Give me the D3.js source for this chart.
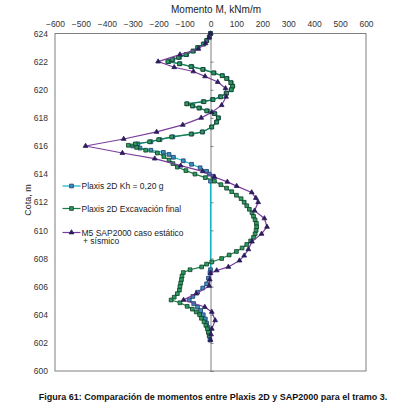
<!DOCTYPE html>
<html><head><meta charset="utf-8">
<script src="https://cdn.jsdelivr.net/npm/d3@7"></script>
<style>
body{margin:0;background:#fff;}
svg{display:block;font-family:"Liberation Sans",Arial,sans-serif;}
</style></head>
<body>
<svg id="c" width="393" height="405"></svg>
<script>
// ---- data ----
const xTicks = [-600,-500,-400,-300,-200,-100,0,100,200,300,400,500,600];
const yTicks = [600,602,604,606,608,610,612,614,616,618,620,622,624];
const seriesNames = ["Plaxis 2D Kh = 0,20 g","Plaxis 2D Excavación final","M5 SAP2000 caso estático","+ sísmico"];

// Plaxis 2D Excavación final (cota, momento)
const exCota = [624.0,623.75,623.5,623.25,623.0,622.75,622.5,622.3,622.15,622.0,621.85,621.65,621.45,621.2,621.0,620.8,620.5,620.25,620.0,619.75,619.5,619.3,619.15,619.0,618.85,618.7,618.5,618.3,618.0,617.7,617.35,617.0,616.85,616.65,616.45,616.3,616.15,616.05,615.9,615.7,615.5,615.25,615.0,614.75,614.5,614.25,614.0,613.75,613.5,613.25,613.0,612.75,612.5,612.25,612.0,611.75,611.5,611.25,611.0,610.75,610.5,610.25,610.0,609.75,609.5,609.25,609.0,608.75,608.5,608.25,608.0,607.75,607.6,607.4,607.2,607.0,606.75,606.5,606.25,606.0,605.75,605.5,605.25,605.05,604.85,604.6,604.4,604.2,604.0,603.75,603.5,603.25,603.0,602.75,602.5];
const exMom  = [0,-5,-15,-28,-50,-68,-95,-124,-148,-165,-120,-75,-30,12,45,62,78,85,80,62,40,10,-25,-92,-70,-45,-15,15,30,24,5,-32,-75,-150,-200,-235,-290,-317,-285,-250,-205,-180,-160,-145,-128,-95,-60,-20,15,40,62,82,100,118,130,140,150,160,166,172,177,178,176,172,166,155,140,122,100,72,43,5,-15,-34,-79,-105,-110,-112,-115,-118,-120,-128,-140,-152,-118,-90,-70,-55,-42,-35,-25,-18,-12,-8,-5];

// Plaxis 2D Kh = 0,20 g
const khCota = [624.0,623.75,623.5,623.25,623.0,622.75,622.5,622.3,622.15,622.0,621.85,621.65,621.45,621.2,621.0,620.8,620.5,620.25,620.0,619.75,619.5,619.3,619.15,619.0,618.85,618.7,618.5,618.3,618.0,617.7,617.35,617.0,616.85,616.65,616.45,616.3,616.15,616.0,615.85,615.7,615.55,615.4,615.2,614.95,614.7,614.45,614.2,614.0,613.85,613.5,607.2,607.0,606.6,606.2,605.9,605.6,605.3,605.05,604.8,604.55,604.3,604.0,603.7,603.4,603.1,602.8,602.5,602.2];
const khMom  = [0,-4,-14,-26,-48,-66,-92,-120,-145,-160,-118,-72,-28,14,46,64,80,86,80,60,38,8,-28,-90,-68,-42,-12,17,31,23,4,-30,-72,-145,-195,-230,-280,-300,-272,-230,-182,-160,-143,-105,-73,-40,-15,-5,11,0,0,-2,-8,-15,-30,-50,-68,-82,-65,-50,-38,-28,-20,-15,-10,-6,-3,-2];

// M5 SAP2000 caso estático + sísmico
const sapCota = [624.0,623.7,623.3,622.9,622.5,622.0,621.6,621.3,620.95,620.55,620.1,619.5,618.9,618.4,618.0,617.5,617.0,616.5,616.0,615.5,615.1,614.6,614.2,613.8,613.45,613.15,612.7,612.3,612.0,611.4,610.85,610.25,609.75,609.2,608.65,608.2,607.85,607.4,607.15,606.95,606.5,606.05,605.5,605.05,604.55,604.2,603.6,603.0,602.6,602.2];
const sapMom  = [0,-6,-19,-47,-118,-202,-140,-66,-21,28,58,60,43,5,-36,-107,-208,-335,-482,-340,-215,-115,-30,15,65,101,159,175,184,170,208,218,197,160,146,130,112,69,24,0,-3,-5,-55,-104,-22,5,18,5,2,0];

// ---- chart ----
const svg = d3.select("#c");
const x = d3.scaleLinear().domain([-600,600]).range([55,366]);
const y = d3.scaleLinear().domain([600,624]).range([371,33.5]);
const textCol = "#333";

// title
svg.append("text").attr("x",216).attr("y",12.5).attr("text-anchor","middle")
  .attr("font-size",10).attr("fill","#222").text("Momento M, kNm/m");

// top tick labels
const topAxis = svg.append("g").attr("transform","translate(0,33.5)")
  .call(d3.axisTop(x).tickValues(xTicks).tickSize(0).tickPadding(7).tickFormat(d3.format("d")));
topAxis.select(".domain").remove();
topAxis.selectAll("text").attr("font-size",8.5).attr("fill",textCol).attr("font-family","Liberation Sans, Arial, sans-serif");

// left tick labels
const leftAxis = svg.append("g").attr("transform","translate(55,0)")
  .call(d3.axisLeft(y).tickValues(yTicks).tickSize(0).tickPadding(7).tickFormat(d3.format("d")));
leftAxis.select(".domain").remove();
leftAxis.selectAll("text").attr("font-size",8.5).attr("fill",textCol).attr("font-family","Liberation Sans, Arial, sans-serif");

// axis label
svg.append("text").attr("transform","translate(31,200) rotate(-90)").attr("text-anchor","middle")
  .attr("font-size",9).attr("fill","#222").text("Cota, m");

// plot box
svg.append("rect").attr("x",55).attr("y",33.5).attr("width",311).attr("height",337.5)
  .attr("fill","none").attr("stroke","#7f7f7f").attr("stroke-width",1);

// zero axis with ticks
const zero = svg.append("g").attr("transform",`translate(${x(0)},0)`)
  .call(d3.axisRight(y).tickValues(yTicks).tickSize(3).tickFormat(""));
zero.selectAll("path,line").attr("stroke","#7f7f7f");

function series(cota, mom, lineCol, mk, fill, stroke, sz){
  const pts = cota.map((c,i)=>({c, m:mom[i]}));
  const line = d3.line().x(d=>x(d.m)).y(d=>y(d.c));
  svg.append("path").datum(pts).attr("d",line).attr("fill","none")
    .attr("stroke",lineCol).attr("stroke-width",1.2);
  const sym = d3.symbol().type(mk).size(sz);
  svg.append("g").selectAll("path").data(pts).join("path")
    .attr("transform",d=>`translate(${x(d.m)},${y(d.c)})`)
    .attr("d",sym).attr("fill",fill).attr("stroke",stroke).attr("stroke-width",0.8);
}
series(khCota, khMom, "#12b5c8", d3.symbolSquare, "#3d8fbf", "#1b3a68", 14);
series(exCota, exMom, "#1d7a4a", d3.symbolSquare, "#2f9a63", "#0e3f24", 14);
series(sapCota, sapMom, "#7a3d9c", d3.symbolTriangle, "#2b1d5c", "#2b1d5c", 10);

// legend
const lg = [
  {y:186, col:"#12b5c8", mk:d3.symbolSquare, fill:"#3d8fbf", st:"#1b3a68", sz:14, t:[seriesNames[0]]},
  {y:208.5, col:"#1d7a4a", mk:d3.symbolSquare, fill:"#2f9a63", st:"#0e3f24", sz:14, t:[seriesNames[1]]},
  {y:232.5, col:"#7a3d9c", mk:d3.symbolTriangle, fill:"#2b1d5c", st:"#2b1d5c", sz:10, t:[seriesNames[2], seriesNames[3]]}
];
lg.forEach(l=>{
  svg.append("line").attr("x1",62.5).attr("x2",80.5).attr("y1",l.y).attr("y2",l.y)
    .attr("stroke",l.col).attr("stroke-width",1.2);
  svg.append("path").attr("transform",`translate(71.5,${l.y})`).attr("d",d3.symbol().type(l.mk).size(l.sz))
    .attr("fill",l.fill).attr("stroke",l.st).attr("stroke-width",0.8);
  l.t.forEach((s,i)=>{
    svg.append("text").attr("x", i===0?81.5:83).attr("y",l.y+3+i*8.5).attr("font-size",8.5)
      .attr("fill","#222").text(s);
  });
});

// caption
svg.append("text").attr("x",213).attr("y",400).attr("text-anchor","middle")
  .attr("font-size",9).attr("font-weight","bold").attr("fill","#111")
  .text("Figura 61: Comparación de momentos entre Plaxis 2D y SAP2000 para el tramo 3.");
</script>
</body></html>
